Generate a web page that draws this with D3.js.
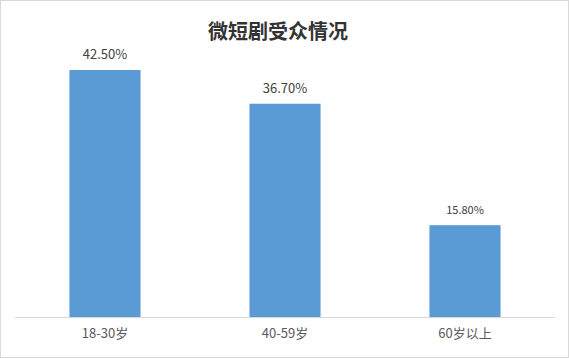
<!DOCTYPE html>
<html><head><meta charset="utf-8">
<script src="https://cdn.jsdelivr.net/npm/d3@7"></script>
<style>body{margin:0;background:#fff}svg{display:block}</style>
</head><body>
<script>
const categories = ["18-30岁", "40-59岁", "60岁以上"];
const values = [42.5, 36.7, 15.8];
const valueLabels = ["42.50%", "36.70%", "15.80%"];
const labelSizes = [13, 13, 11];
const title = "微短剧受众情况";

const W = 569, H = 358;
const svg = d3.select("body").append("svg").attr("width", W).attr("height", H);
svg.append("rect").attr("x",0.5).attr("y",0.5).attr("width",W-1).attr("height",H-1)
  .attr("fill","#fff").attr("stroke","#d9d9d9");

const x = d3.scaleBand().domain(categories).range([15, 555]).paddingInner(0.605).paddingOuter(0.3025);
const y = d3.scaleLinear().domain([0, 45]).range([317, 55.5]);

svg.append("text").attr("x", 278).attr("y", 39).attr("text-anchor","middle")
  .attr("font-family","'Noto Sans CJK SC', sans-serif").attr("font-weight","bold")
  .attr("font-size",20).attr("fill","#333333").text(title);

svg.selectAll("rect.bar").data(values).enter().append("rect").attr("class","bar")
  .attr("x",(d,i)=>x(categories[i])).attr("width",x.bandwidth())
  .attr("y",d=>y(d)).attr("height",d=>y(0)-y(d)).attr("fill","#5b9bd5");

svg.selectAll("text.val").data(values).enter().append("text").attr("class","val")
  .attr("x",(d,i)=>x(categories[i])+x.bandwidth()/2).attr("y",(d,i)=>y(d)-11)
  .attr("text-anchor","middle").attr("font-family","'Noto Sans CJK SC', sans-serif")
  .attr("font-size",(d,i)=>labelSizes[i]).attr("fill","#404040").text((d,i)=>valueLabels[i]);

const ax = svg.append("g").attr("transform","translate(0,317)")
  .call(d3.axisBottom(x).tickSize(0).tickPadding(12));
ax.select(".domain").attr("stroke","#d9d9d9").attr("d","M15,0.5H555");
ax.selectAll("text").attr("font-family","'Noto Sans CJK SC', sans-serif").attr("font-size",13).attr("fill","#595959");
</script>
</body></html>
